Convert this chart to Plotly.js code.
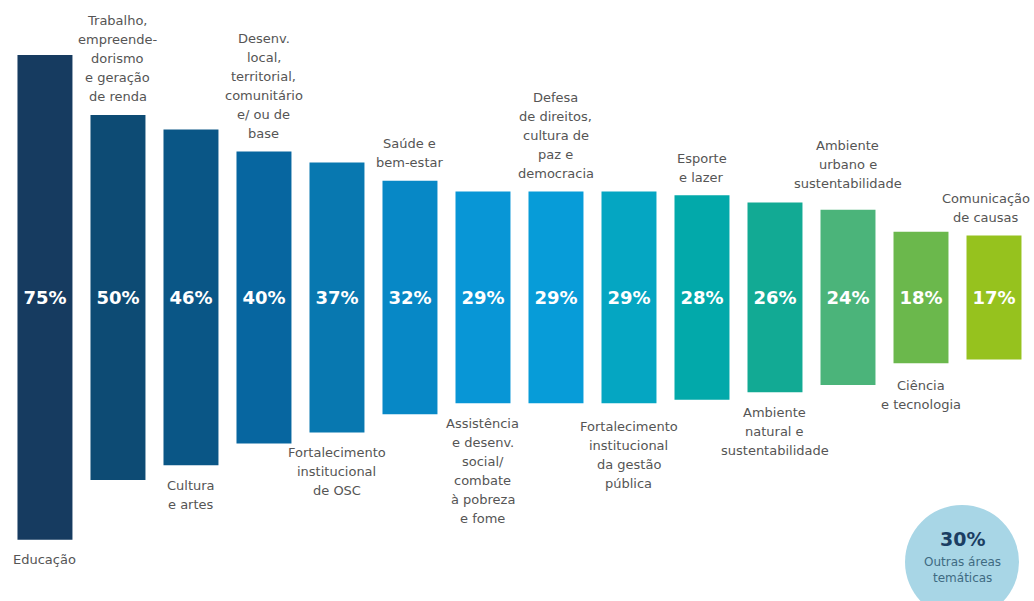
<!DOCTYPE html>
<html>
<head>
<meta charset="utf-8">
<script src="https://cdn.plot.ly/plotly-3.0.1.min.js"></script>
<style>html,body{margin:0;padding:0;background:#fff;}#chart{width:1034px;height:601px;}</style>
</head>
<body>
<div id="chart"></div>
<script>
// ---- data ----
var categories = [
  "Educação",
  "Trabalho,<br>empreende-<br>dorismo<br>e geração<br>de renda",
  "Cultura<br>e artes",
  "Desenv.<br>local,<br>territorial,<br>comunitário<br>e/ ou de<br>base",
  "Fortalecimento<br>institucional<br>de OSC",
  "Saúde e<br>bem-estar",
  "Assistência<br>e desenv.<br>social/<br>combate<br>à pobreza<br>e fome",
  "Defesa<br>de direitos,<br>cultura de<br>paz e<br>democracia",
  "Fortalecimento<br>institucional<br>da gestão<br>pública",
  "Esporte<br>e lazer",
  "Ambiente<br>natural e<br>sustentabilidade",
  "Ambiente<br>urbano e<br>sustentabilidade",
  "Ciência<br>e tecnologia",
  "Comunicação<br>de causas"
];
var values = [75, 50, 46, 40, 37, 32, 29, 29, 29, 28, 26, 24, 18, 17];
var labelSide = ["below","above","below","above","below","above","below","above","below","above","below","above","below","above"];
var otherValue = 30;
var otherLabel = "Outras áreas<br>temáticas";

// ---- style ----
var colors = ["#163b60","#0d4b74","#0a5686","#0766a0","#0878b0","#0788c6","#0896d6","#079cd8","#05a6c2","#02a9aa","#12aa94","#4bb47a","#6bb84c","#96c21e"];
var EDU_CAP = 66.4; // the first bar is drawn shortened in the original
var barLen = values.map(function(v){ return Math.min(v, EDU_CAP); });
var xs = values.map(function(v,i){ return i; });
var LINE = 19;
var labelDx = [0,0,0,0,0,0,0,0,0,0,0,0,0,-8];
var labelDy = [0,0,0,0,0,0,0,0,3,0,0,8,2,0];

var annotations = [];
categories.forEach(function(c, i){
  var lines = c.split("<br>");
  var n = lines.length;
  var half = barLen[i] / 2;
  lines.forEach(function(t, j){
    var a = {
      x: i, xref: "x", yref: "y", text: t, showarrow: false,
      xshift: labelDx[i],
      font: {family: "DejaVu Sans", size: 13, color: "#555555"},
      xanchor: "center"
    };
    if (labelSide[i] === "above") {
      a.y = half; a.yanchor = "middle";
      a.yshift = 18 + labelDy[i] + (n - 1 - j) * LINE;
    } else {
      a.y = -half; a.yanchor = "middle";
      a.yshift = -(20 + labelDy[i] + j * LINE);
    }
    annotations.push(a);
  });
});

annotations.push({
  xref: "paper", yref: "paper", x: 962/1034, y: 1 - 539/601, text: "<b>" + otherValue + "%</b>",
  showarrow: false, xanchor: "center", yanchor: "middle",
  font: {family: "DejaVu Sans", size: 19, color: "#1b3e63"}
});
otherLabel.split("<br>").forEach(function(t, j){
  annotations.push({
    xref: "paper", yref: "paper", x: 962/1034, y: 1 - (562 + j*16)/601, text: t,
    showarrow: false, xanchor: "center", yanchor: "middle",
    font: {family: "DejaVu Sans", size: 12, color: "#3f6b82"}
  });
});

var trace = {
  type: "bar",
  x: xs,
  y: barLen,
  base: barLen.map(function(v){ return -v/2; }),
  width: 0.753,
  marker: {color: colors, line: {width: 0}},
  text: values.map(function(v){ return "<b>" + v + "%</b>"; }),
  textposition: "inside",
  insidetextanchor: "middle",
  textangle: 0,
  constraintext: "none",
  textfont: {family: "DejaVu Sans", size: 18, color: "#ffffff"},
  hoverinfo: "skip"
};

var layout = {
  width: 1034, height: 601,
  margin: {l: 0, r: 0, t: 0, b: 0},
  paper_bgcolor: "#ffffff", plot_bgcolor: "#ffffff",
  showlegend: false,
  xaxis: {range: [-0.616, 13.548], visible: false, fixedrange: true},
  yaxis: {range: [-41.58, 40.75], visible: false, fixedrange: true},
  annotations: annotations,
  shapes: [{
    type: "circle", xref: "paper", yref: "paper",
    xsizemode: "pixel", ysizemode: "pixel",
    xanchor: 962/1034, yanchor: 1 - 562/601,
    x0: -57, x1: 57, y0: -57, y1: 57,
    fillcolor: "#a8d6e6", line: {width: 0}, layer: "below"
  }]
};

Plotly.newPlot("chart", [trace], layout, {displayModeBar: false, staticPlot: true});
</script>
</body>
</html>
